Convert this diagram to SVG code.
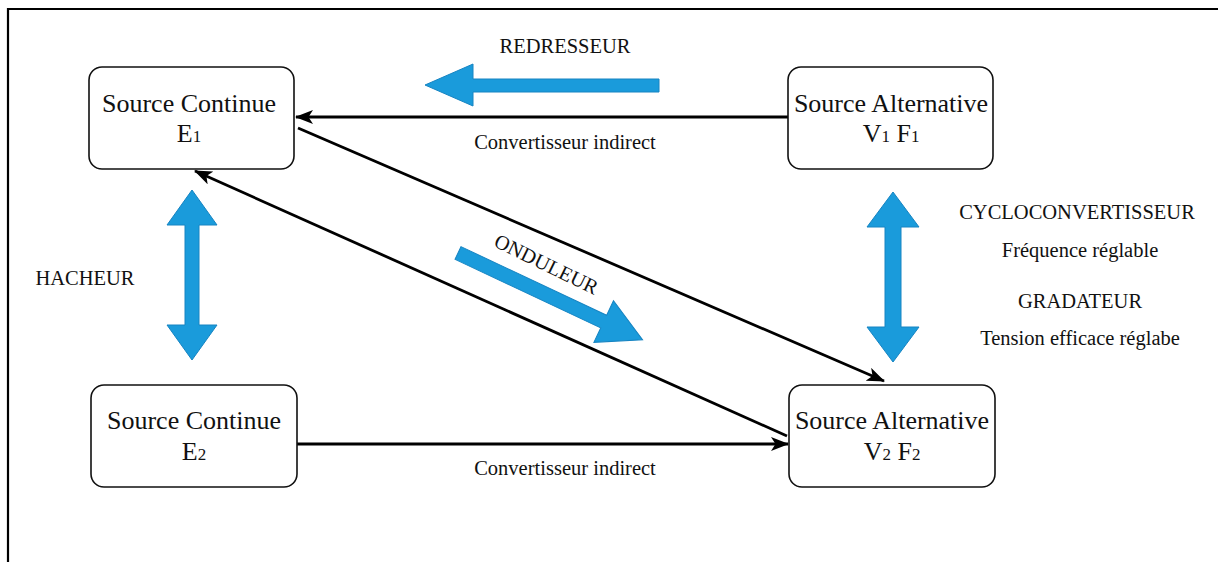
<svg xmlns="http://www.w3.org/2000/svg" width="1218" height="562" viewBox="0 0 1218 562">
<style>
.box{fill:#fff;stroke:#111;stroke-width:1.6}
.node{font-family:"Liberation Serif","Times New Roman",serif;font-size:26px;fill:#111;text-anchor:middle}
.sub{font-size:17px}
.lbl{font-family:"Liberation Serif","Times New Roman",serif;font-size:20.5px;fill:#111;text-anchor:middle}
.con{stroke:#000;stroke-width:2.8;fill:none}
.blue{fill:#1a9bdb;stroke:#1684c2;stroke-width:1}
</style>
<defs>
<marker id="ah" markerUnits="userSpaceOnUse" markerWidth="18" markerHeight="14" viewBox="0 0 18 14" refX="17" refY="7" orient="auto">
<path d="M0,0 L18,7 L0,14 L4.5,7 z" fill="#000"/>
</marker>
</defs>
<rect x="0" y="0" width="1218" height="562" fill="#fff"/>
<path d="M8,562 V9 H1218" fill="none" stroke="#000" stroke-width="2.2"/>

<g id="connectors">
<line class="con" x1="788" y1="117" x2="296" y2="117" marker-end="url(#ah)"/>
<line class="con" x1="298" y1="128" x2="884" y2="381" marker-end="url(#ah)"/>
<line class="con" x1="787" y1="436" x2="195" y2="171" marker-end="url(#ah)"/>
<line class="con" x1="297" y1="444" x2="788" y2="444" marker-end="url(#ah)"/>
</g>

<g id="node-e1">
<rect class="box" x="89" y="67" width="205" height="102" rx="13"/>
<text class="node" x="189" y="112">Source Continue</text>
<text class="node" x="189" y="142">E<tspan class="sub">1</tspan></text>
</g>
<g id="node-v1f1">
<rect class="box" x="788" y="67" width="205" height="102" rx="13"/>
<text class="node" x="891" y="112">Source Alternative</text>
<text class="node" x="891" y="142">V<tspan class="sub">1</tspan> F<tspan class="sub">1</tspan></text>
</g>
<g id="node-e2">
<rect class="box" x="91" y="385" width="206" height="102" rx="13"/>
<text class="node" x="194" y="429">Source Continue</text>
<text class="node" x="194" y="460">E<tspan class="sub">2</tspan></text>
</g>
<g id="node-v2f2">
<rect class="box" x="789" y="385" width="206" height="102" rx="13"/>
<text class="node" x="892" y="429">Source Alternative</text>
<text class="node" x="892" y="460">V<tspan class="sub">2</tspan> F<tspan class="sub">2</tspan></text>
</g>

<g id="arrow-redresseur">
<polygon class="blue" points="425,85 473,64 473,79 659,79 659,92 473,92 473,106"/>
<text class="lbl" x="565" y="53">REDRESSEUR</text>
</g>
<g id="arrow-hacheur">
<polygon class="blue" points="192,190 167,225 185,225 185,325 167,325 192,360 217,325 199,325 199,225 217,225"/>
<text class="lbl" x="85" y="285">HACHEUR</text>
</g>
<g id="arrow-cyclo">
<polygon class="blue" points="893,192 867,227 885,227 885,327 867,327 893,362 919,327 901,327 901,227 919,227"/>
<text class="lbl" x="1077" y="219">CYCLOCONVERTISSEUR</text>
<text class="lbl" x="1080" y="257">Fréquence réglable</text>
<text class="lbl" x="1080" y="308">GRADATEUR</text>
<text class="lbl" x="1080" y="345">Tension efficace réglabe</text>
</g>
<g id="arrow-onduleur">
<polygon class="blue" transform="translate(458,253) rotate(25.2)" points="0,-7 161,-7 161,-23 204,0 161,23 161,7 0,7"/>
<text class="lbl" transform="translate(546,265) rotate(26)" x="0" y="6">ONDULEUR</text>
</g>

<text class="lbl" x="565" y="149">Convertisseur indirect</text>
<text class="lbl" x="565" y="475">Convertisseur indirect</text>
</svg>
